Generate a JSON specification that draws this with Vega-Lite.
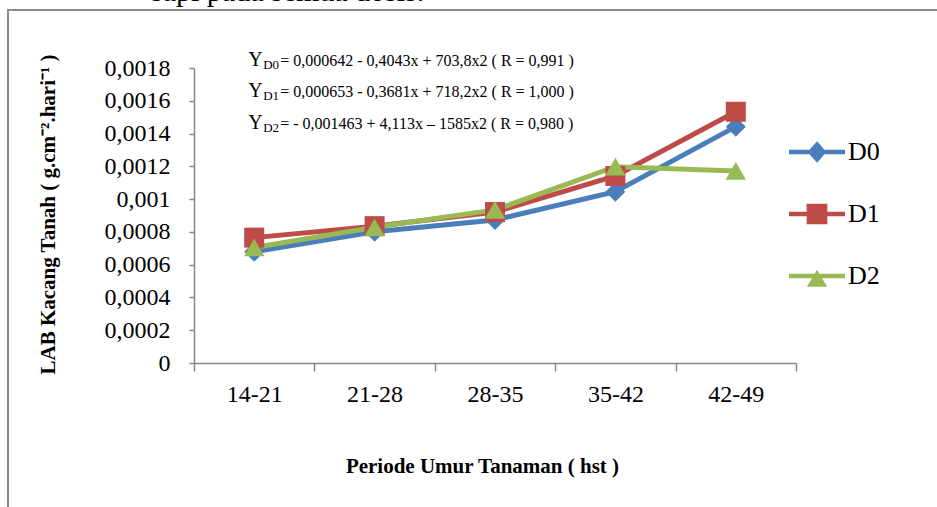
{
  "$schema": "https://vega.github.io/schema/vega-lite/v6.json",
  "width": 931,
  "height": 499,
  "autosize": {"type": "none"},
  "padding": {"left": 8, "top": 10, "right": 0, "bottom": 0},
  "background": "white",
  "title": {"text": "sapi pada semua dosis.", "anchor": "start", "frame": "group", "dx": 143, "dy": 21, "offset": 0, "baseline": "alphabetic", "fontSize": 30, "font": "Liberation Serif", "fontWeight": "normal", "color": "black"},
  "datasets": {
    "lab": [
      {"periode": "14-21", "dosis": "D0", "lab": 0.000679},
      {"periode": "21-28", "dosis": "D0", "lab": 0.000801},
      {"periode": "28-35", "dosis": "D0", "lab": 0.000873},
      {"periode": "35-42", "dosis": "D0", "lab": 0.001045},
      {"periode": "42-49", "dosis": "D0", "lab": 0.001442},
      {"periode": "14-21", "dosis": "D1", "lab": 0.000765},
      {"periode": "21-28", "dosis": "D1", "lab": 0.000835},
      {"periode": "28-35", "dosis": "D1", "lab": 0.000921},
      {"periode": "35-42", "dosis": "D1", "lab": 0.001141},
      {"periode": "42-49", "dosis": "D1", "lab": 0.001533},
      {"periode": "14-21", "dosis": "D2", "lab": 0.000705},
      {"periode": "21-28", "dosis": "D2", "lab": 0.000828},
      {"periode": "28-35", "dosis": "D2", "lab": 0.000934},
      {"periode": "35-42", "dosis": "D2", "lab": 0.001198},
      {"periode": "42-49", "dosis": "D2", "lab": 0.001172}
    ],
    "eq": [
      {"periode": "14-21", "lab": 0.001812, "sub": "D0", "expr": "= 0,000642 - 0,4043x + 703,8x2 ( R = 0,991 )"},
      {"periode": "14-21", "lab": 0.001623, "sub": "D1", "expr": "= 0,000653 - 0,3681x  + 718,2x2 ( R = 1,000 )"},
      {"periode": "14-21", "lab": 0.001428, "sub": "D2", "expr": "= - 0,001463 + 4,113x  \u2013 1585x2 ( R = 0,980 )"}
    ]
  },
  "encoding": {
    "x": {
      "field": "periode", "type": "nominal",
      "sort": ["14-21", "21-28", "28-35", "35-42", "42-49"],
      "scale": {"type": "band", "domain": ["14-21", "21-28", "28-35", "35-42", "42-49"], "range": [186, 788], "paddingInner": 0, "paddingOuter": 0},
      "axis": {
        "title": "Periode  Umur Tanaman ( hst )", "orient": "bottom", "offset": -146,
        "tickBand": "extent", "tickSize": 8, "labelAngle": 0, "labelPadding": 11,
        "labelFontSize": 24, "labelFont": "Liberation Serif", "labelColor": "black",
        "domainColor": "#868686", "tickColor": "#868686", "domainWidth": 1.5, "tickWidth": 1.5,
        "titleX": 474, "titleY": 103, "titleBaseline": "middle", "titleAlign": "center",
        "titleFont": "Liberation Serif", "titleFontSize": 21, "titleFontWeight": "bold", "titleColor": "black"
      }
    },
    "y": {
      "field": "lab", "type": "quantitative",
      "scale": {"domain": [0, 0.0018], "range": [353, 58], "nice": false, "zero": true},
      "axis": {
        "title": "LAB  Kacang Tanah ( g.cm\u207b\u00b2.hari\u207b\u00b9 )", "offset": -186,
        "values": [0, 0.0002, 0.0004, 0.0006, 0.0008, 0.001, 0.0012, 0.0014, 0.0016, 0.0018],
        "format": "~g", "tickSize": 5, "labelPadding": 19,
        "labelFontSize": 24, "labelFont": "Liberation Serif", "labelColor": "black",
        "domainColor": "#868686", "tickColor": "#868686", "domainWidth": 1.5, "tickWidth": 1.5,
        "titleX": -146, "titleY": 204, "titleAngle": -90, "titleBaseline": "middle", "titleAlign": "center",
        "titleFont": "Liberation Serif", "titleFontSize": 21, "titleFontWeight": "bold", "titleColor": "black"
      }
    }
  },
  "layer": [
    {
      "data": {"name": "lab"},
      "transform": [{"filter": "datum.dosis === 'D0'"}],
      "mark": {"type": "line", "strokeWidth": 5, "color": "#4A7EBB"},
      "encoding": {}
    },
    {
      "data": {"name": "lab"},
      "transform": [{"filter": "datum.dosis === 'D1'"}],
      "mark": {"type": "line", "strokeWidth": 5, "color": "#BE4B48"},
      "encoding": {}
    },
    {
      "data": {"name": "lab"},
      "transform": [{"filter": "datum.dosis === 'D2'"}],
      "mark": {"type": "line", "strokeWidth": 5, "color": "#98B954"},
      "encoding": {}
    },
    {
      "data": {"name": "lab"},
      "transform": [{"filter": "datum.dosis === 'D0'"}],
      "mark": {"type": "point", "shape": "diamond", "filled": true, "size": 400, "opacity": 1, "color": "#4A7EBB"}
    },
    {
      "data": {"name": "lab"},
      "transform": [{"filter": "datum.dosis === 'D1'"}],
      "mark": {"type": "point", "shape": "square", "filled": true, "size": 400, "opacity": 1, "color": "#BE4B48"}
    },
    {
      "data": {"name": "lab"},
      "transform": [{"filter": "datum.dosis === 'D2'"}],
      "mark": {"type": "point", "shape": "triangle-up", "filled": true, "size": 420, "opacity": 1, "color": "#98B954"}
    },
    {
      "data": {"name": "lab"},
      "mark": {"type": "point", "filled": true, "size": 400, "opacity": 0},
      "encoding": {
        "color": {
          "field": "dosis", "type": "nominal",
          "scale": {"domain": ["D0", "D1", "D2"], "range": ["#4A7EBB", "#BE4B48", "#98B954"]},
          "legend": {
            "orient": "none", "legendX": 781, "legendY": 114, "title": null,
            "labelFontSize": 26, "labelFont": "Liberation Serif", "labelColor": "black", "labelOffset": 3,
            "symbolSize": 3136, "rowPadding": 21, "padding": 0, "symbolOpacity": 1, "symbolStrokeWidth": 0
          }
        },
        "shape": {
          "field": "dosis", "type": "nominal",
          "scale": {"domain": ["D0", "D1", "D2"], "range": [
            "M-1,-0.08H1V0.08H-1Z M-0.34,0L0,-0.38L0.34,0L0,0.38Z",
            "M-1,-0.08H1V0.08H-1Z M-0.37,-0.37H0.37V0.37H-0.37Z",
            "M-1,-0.08H1V0.08H-1Z M0,-0.22L0.36,0.38H-0.36Z"
          ]},
          "legend": {
            "orient": "none", "legendX": 781, "legendY": 114, "title": null,
            "labelFontSize": 26, "labelFont": "Liberation Serif", "labelColor": "black", "labelOffset": 3,
            "symbolSize": 3136, "rowPadding": 21, "padding": 0, "symbolOpacity": 1, "symbolStrokeWidth": 0
          }
        }
      }
    },
    {
      "data": {"name": "eq"},
      "mark": {"type": "text", "align": "left", "baseline": "alphabetic", "dx": -6, "fontSize": 20, "font": "Liberation Serif", "color": "black"},
      "encoding": {"text": {"value": "Y"}}
    },
    {
      "data": {"name": "eq"},
      "mark": {"type": "text", "align": "left", "baseline": "alphabetic", "dx": 9, "dy": 3, "fontSize": 13, "font": "Liberation Serif", "color": "black"},
      "encoding": {"text": {"field": "sub"}}
    },
    {
      "data": {"name": "eq"},
      "mark": {"type": "text", "align": "left", "baseline": "alphabetic", "dx": 26, "fontSize": 16, "font": "Liberation Serif", "color": "black"},
      "encoding": {"text": {"field": "expr"}}
    }
  ],
  "config": {
    "view": {"stroke": "#8a8a8a", "strokeWidth": 2},
    "axis": {"grid": false},
    "locale": {"number": {"decimal": ",", "thousands": ".", "grouping": [3], "currency": ["", ""]}}
  }
}
